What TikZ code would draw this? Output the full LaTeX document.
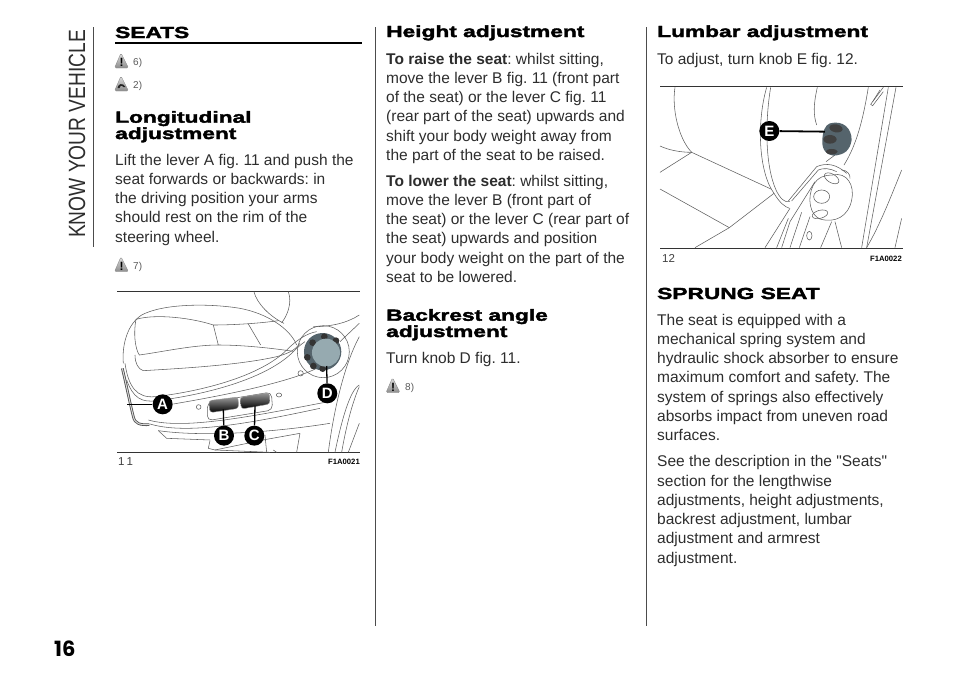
\documentclass[tikz,border=0pt]{standalone}
\usepackage{fontspec}
\setmainfont[Ligatures=TeXOff]{Liberation Sans}
\newfontfamily\headfont[FakeStretch=1.42,FakeBold=2.4]{Liberation Sans Bold}
\newfontfamily\sidefont[FakeStretch=0.816]{Liberation Sans}
\newfontfamily\pagefont{Poppins}
\usetikzlibrary{arrows}
\definecolor{inkColour}{RGB}{45,45,45}
\definecolor{wireColour}{RGB}{95,95,95}
\definecolor{knobDark}{RGB}{85,100,108}
\definecolor{knobLight}{RGB}{150,170,176}
\tikzset{
  bodytext/.style={anchor=base west, inner sep=0pt, text=inkColour, font=\fontsize{15.5}{19}\selectfont\frenchspacing},
  headtext/.style={anchor=base west, inner sep=0pt, font=\fontsize{16}{17}\headfont},
  notetext/.style={anchor=base west, inner sep=0pt, text=black!65, font=\fontsize{10}{11}\selectfont},
  captext/.style={anchor=base west, inner sep=0pt, text=black!75, font=\fontsize{11.5}{13}\selectfont},
  codetext/.style={anchor=base east, inner sep=0pt, font=\fontsize{7.7}{9}\selectfont\bfseries},
  wire/.style={draw=wireColour, line width=0.55pt},
  framerule/.style={draw=black!80, line width=0.9pt},
  columnrule/.style={draw=black!70, line width=1pt},
  calloutdot/.style={circle, fill=black, text=white, inner sep=0pt, minimum size=20pt, font=\fontsize{15}{15}\selectfont\bfseries},
  calloutline/.style={draw=black, line width=1.3pt},
  warnicon/.pic={
    \shade[top color=black!12, bottom color=black!45, draw=black!45, line width=0.4pt, rounded corners=1.5pt] (0,7) -- (6.5,-8) -- (14,7) -- cycle;
    \node[inner sep=0pt, font=\fontsize{12}{12}\selectfont\bfseries] at (7,1.5) {!};
  },
  roadicon/.pic={
    \shade[top color=black!12, bottom color=black!45, draw=black!45, line width=0.4pt, rounded corners=1.5pt] (0,7) -- (6.5,-8) -- (14,7) -- cycle;
    \fill[black!85] (3,4) .. controls (3.5,0) and (8,-2) .. (11,3) -- (9,3) .. controls (8,1) and (6,1) .. (5,4) -- cycle;
  }
}
\begin{document}
\begin{tikzpicture}[x=1pt, y=-1pt]
  \useasboundingbox (0,0) rectangle (960,686);

  % side title and page number
  \node[rotate=90, anchor=base west, inner sep=0pt, text=inkColour, font=\fontsize{23.5}{23}\sidefont] (sideTitle) at (85,238) {KNOW YOUR VEHICLE};
  \node[anchor=base west, inner sep=0pt, font=\fontsize{21}{21}\pagefont\bfseries] (pageNo) at (54,656) {16};

  % column rules
  \draw[columnrule] (93,27) -- (93,247);
  \draw[columnrule] (375,27) -- (375,626);
  \draw[columnrule] (646,27) -- (646,626);

  % first column
  \node[headtext] (seatsHead) at (115,38) {SEATS};
  \draw[draw=black, line width=1.8pt] (115,43) -- (362,43);
  \pic at (114.5,61) {warnicon};
  \node[notetext] (noteSix) at (133,65.7) {6)};
  \pic at (114.5,84) {roadicon};
  \node[notetext] (noteTwo) at (133,88.5) {2)};
  \node[headtext] (longHeadA) at (115,122.7) {Longitudinal};
  \node[headtext] (longHeadB) at (115,139) {adjustment};
  \foreach \txt [count=\i from 0] in {Lift the lever A fig. 11 and push the, seat forwards or backwards: in, the driving position your arms, should rest on the rim of the, steering wheel.}
    \node[bodytext] (lift\i) at (115,165+19.3*\i) {\txt};
  \pic at (114.5,264.7) {warnicon};
  \node[notetext] (noteSeven) at (133,269) {7)};

  % second column
  \node[headtext] (heightHead) at (386,37) {Height adjustment};
  \foreach \txt [count=\i from 0] in {{\textbf{To raise the seat}: whilst sitting,}, move the lever B fig. 11 (front part, of the seat) or the lever C fig. 11, (rear part of the seat) upwards and, shift your body weight away from, the part of the seat to be raised.}
    \node[bodytext] (raise\i) at (386,64+19.3*\i) {\txt};
  \foreach \txt [count=\i from 0] in {{\textbf{To lower the seat}: whilst sitting,}, move the lever B (front part of, the seat) or the lever C (rear part of, the seat) upwards and position, your body weight on the part of the, seat to be lowered.}
    \node[bodytext] (lower\i) at (386,186+19.3*\i) {\txt};
  \node[headtext] (backHeadA) at (386,320.7) {Backrest angle};
  \node[headtext] (backHeadB) at (386,337) {adjustment};
  \node[bodytext] (turnKnob) at (386,363) {Turn knob D fig. 11.};
  \pic at (386,385.7) {warnicon};
  \node[notetext] (noteEight) at (405,390) {8)};

  % third column
  \node[headtext] (lumbarHead) at (657,37) {Lumbar adjustment};
  \node[bodytext] (adjustKnob) at (657,64) {To adjust, turn knob E fig. 12.};
  \node[headtext] (sprungHead) at (657,299) {SPRUNG SEAT};
  \foreach \txt [count=\i from 0] in {The seat is equipped with a, mechanical spring system and, hydraulic shock absorber to ensure, maximum comfort and safety. The, system of springs also effectively, absorbs impact from uneven road, surfaces.}
    \node[bodytext] (sprung\i) at (657,325+19.3*\i) {\txt};
  \foreach \txt [count=\i from 0] in {See the description in the "Seats", section for the lengthwise, {adjustments, height adjustments,}, {backrest adjustment, lumbar}, adjustment and armrest, adjustment.}
    \node[bodytext] (see\i) at (657,466.7+19.3*\i) {\txt};

  % figure 11, typed in zoom coordinates
  \begin{scope}[shift={(100,280)}, x=0.3333pt, y=-0.3333pt]
    % frame
    \draw[framerule] (52,33) -- (780,33);
    \draw[framerule] (52,517) -- (780,517);

    % backrest
    \draw[wire] (462,35) .. controls (470,70) and (510,110) .. (552,130);
    \draw[wire] (565,35) .. controls (578,70) and (560,110) .. (545,128);
    \draw[wire] (640,140) .. controls (690,140) and (740,130) .. (778,105);

    % cushion
    \draw[wire] (70,250) .. controls (65,190) and (85,130) .. (125,105) .. controls (190,70) and (330,70) .. (420,85) .. controls (500,100) and (570,145) .. (590,195);
    \draw[wire] (108,118) .. controls (170,100) and (280,115) .. (340,135) .. controls (400,135) and (480,130) .. (535,122);
    \draw[wire] (108,118) .. controls (100,160) and (105,205) .. (118,225) .. controls (190,215) and (280,195) .. (355,195) .. controls (430,195) and (520,205) .. (580,214);
    \draw[wire] (340,135) -- (355,195);
    \draw[wire] (445,132) -- (482,195);
    \draw[wire] (105,225) .. controls (105,250) and (115,268) .. (130,272) .. controls (250,265) and (420,255) .. (530,230) .. controls (560,222) and (585,212) .. (600,190);

    % trim strips
    \draw[wire] (75,250) .. controls (85,320) and (110,355) .. (165,350) .. controls (300,335) and (480,290) .. (560,210) .. controls (590,180) and (620,160) .. (650,155);
    \draw[wire] (80,300) .. controls (100,355) and (125,368) .. (170,362) .. controls (310,345) and (490,300) .. (575,220) .. controls (590,205) and (600,195) .. (615,185);
    \draw[wire] (145,420) .. controls (250,450) and (450,410) .. (670,368);
    \draw[wire] (150,432) .. controls (260,465) and (450,430) .. (660,385);
    \draw[wire] (220,372) .. controls (350,350) and (560,310) .. (650,265);
    \draw[wire] (175,452) -- (200,475) -- (330,480);
    \draw[wire] (175,452) .. controls (300,470) and (500,460) .. (690,430);
    \draw[wire] (330,482) -- (325,505) -- (345,510) -- (500,478) -- (600,460);
    \draw[wire] (345,510) -- (510,517);
    \draw[wire] (495,465) -- (500,517);
    \draw[wire] (600,460) -- (590,517);
    \draw[wire] (520,510) -- (530,517);

    % right panel
    \draw[wire] (685,517) .. controls (700,400) and (730,260) .. (778,170);
    \draw[wire] (705,517) .. controls (725,420) and (750,330) .. (778,315);
    \draw[wire] (725,517) .. controls (740,430) and (760,360) .. (778,320);
    \draw[wire] (745,517) -- (778,430);
    \draw[wire] (720,185) -- (778,130);

    % screw holes
    \draw[wire] (296,381) ellipse (7 and 7);
    \draw[wire] (537,345) ellipse (8 and 6);
    \draw[wire] (602,280) ellipse (8 and 8);

    % lever
    \draw[line width=2.6pt, draw=black!70] (67,265) .. controls (80,320) and (90,370) .. (100,410) .. controls (105,432) and (120,435) .. (148,434);
    \draw[line width=1pt, draw=black!15] (67,265) .. controls (80,320) and (90,370) .. (100,410) .. controls (105,432) and (120,435) .. (148,434);

    % switch plate
    \draw[wire, rounded corners=5pt] (322,368) -- (514,336) -- (518,390) -- (322,422) -- cycle;
    \shade[top color=black!40, bottom color=black, draw=black!40, rounded corners=3pt] (326,362) -- (414,351) -- (416,385) -- (330,398) -- cycle;
    \shade[top color=black!40, bottom color=black, draw=black!40, rounded corners=3pt] (420,352) -- (508,338) -- (510,372) -- (424,387) -- cycle;

    % knob
    \draw[wire] (670,215) circle (78);
    \fill[knobDark] (668,215) circle (56);
    \foreach \px/\py in {673/170, 708/182, 638/188, 622/232, 640/258, 668/266} \fill[black!80] (\px,\py) circle (10);
    \fill[knobLight] (678,218) circle (42);

    % callouts
    \coordinate (tipA) at (82,373);
    \coordinate (tipB) at (370,388);
    \coordinate (tipC) at (465,378);
    \coordinate (tipD) at (680,258);
    \node[calloutdot] (markA) at (188,373) {A};
    \node[calloutdot] (markB) at (372,467) {B};
    \node[calloutdot] (markC) at (463,467) {C};
    \node[calloutdot] (markD) at (682,340) {D};
    \draw[calloutline] (markA) -- (tipA);
    \draw[calloutline] (markB) -- (tipB);
    \draw[calloutline] (markC) -- (tipC);
    \draw[calloutline] (markD) -- (tipD);
  \end{scope}
  \node[captext] (capEleven) at (118,465.7) {1\hspace{2pt}1};
  \node[codetext] (codeEleven) at (360,464) {F1A0021};

  % figure 12, typed in zoom coordinates
  \begin{scope}[shift={(650,75)}, x=0.3333pt, y=-0.3333pt]
    % frame
    \draw[framerule] (30,35) -- (758,35);
    \draw[framerule] (30,520) -- (758,520);

    % seat
    \draw[wire] (75,37) .. controls (65,100) and (85,190) .. (125,232);
    \draw[wire] (30,213) .. controls (55,225) and (90,232) .. (125,232);
    \draw[wire] (125,232) -- (365,343);
    \draw[wire] (125,232) -- (30,292);
    \draw[wire] (30,342) -- (238,458);
    \draw[wire] (372,355) -- (238,458) -- (135,518);

    % backrest edge
    \draw[wire] (350,37) .. controls (320,140) and (325,290) .. (372,355) .. controls (390,385) and (405,395) .. (418,400);
    \draw[wire] (362,37) .. controls (345,140) and (345,270) .. (378,345) .. controls (390,370) and (405,385) .. (420,380);
    \draw[wire] (502,37) .. controls (490,90) and (490,120) .. (500,150);
    \draw[wire] (655,37) .. controls (640,130) and (620,210) .. (582,270);
    \draw[wire] (555,240) -- (528,260);

    % right panel
    \draw[wire] (738,37) -- (650,518);
    \draw[wire] (715,37) -- (635,518);
    \draw[wire] (700,37) -- (662,88) -- (668,92) -- (700,50);
    \draw[wire] (690,45) -- (668,80);
    \draw[wire] (755,285) .. controls (725,360) and (690,450) .. (650,518);
    \draw[wire] (755,430) -- (735,518);

    % lower knob
    \draw[wire] (548,300) .. controls (590,290) and (615,330) .. (605,375) .. controls (595,425) and (555,445) .. (510,432) .. controls (480,420) and (470,370) .. (490,330) .. controls (505,305) and (525,300) .. (548,300);
    \draw[wire, rotate around={-30:(545,310)}] (545,310) ellipse (24 and 13);
    \draw[wire] (515,365) ellipse (24 and 20);
    \draw[wire, rotate around={15:(510,418)}] (510,418) ellipse (24 and 12);
    \draw[wire] (575,285) .. controls (590,285) and (602,298) .. (600,310);

    % bracket strips
    \draw[wire] (415,378) -- (500,275) .. controls (530,262) and (560,268) .. (590,295);
    \draw[wire] (425,378) -- (505,285) .. controls (520,278) and (540,280) .. (560,290);
    \draw[wire] (345,518) -- (420,400);
    \draw[wire] (380,518) -- (415,430);
    \draw[wire] (395,518) -- (420,440) -- (495,320);
    \draw[wire] (420,518) -- (455,412);
    \draw[wire] (448,518) -- (480,425);
    \draw[wire] (512,518) -- (545,440);
    \draw[wire] (575,518) -- (555,440);
    \draw[wire] (478,482) ellipse (8 and 13);

    % knob
    \fill[knobDark] (540,145) .. controls (580,135) and (605,160) .. (605,195) .. controls (600,225) and (585,240) .. (550,242) .. controls (530,240) and (515,225) .. (517,195) .. controls (518,170) and (525,150) .. (540,145) -- cycle;
    \fill[black!75, rotate around={-10:(558,160)}] (558,160) ellipse (20 and 12);
    \fill[black!75] (540,193) ellipse (20 and 13);
    \fill[black!75] (545,230) ellipse (18 and 8);

    % callout
    \coordinate (tipE) at (525,170);
    \node[calloutdot] (markE) at (358,168) {E};
    \draw[calloutline, line width=1.8pt] (markE) -- (tipE);
  \end{scope}
  \node[captext] (capTwelve) at (662,262) {12};
  \node[codetext] (codeTwelve) at (902,261) {F1A0022};
\end{tikzpicture}
\end{document}
